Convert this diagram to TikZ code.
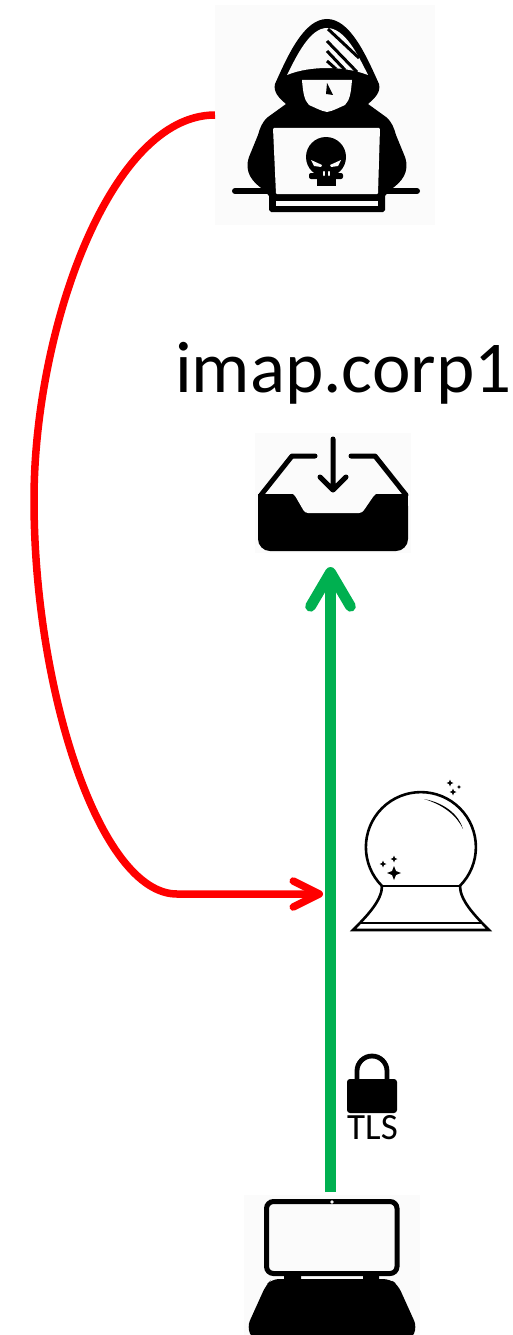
\documentclass[tikz,border=0pt]{standalone}
\usepackage{fontspec}
\setmainfont{Carlito}
\usepackage{tikz}
\usetikzlibrary{arrows.meta}
\definecolor{linkgreen}{HTML}{00B050}
\definecolor{iconbg}{HTML}{FBFBFB}
\tikzset{
  iconbox/.style={fill=iconbg, inner sep=0pt, outer sep=0pt},
  redlink/.style={red, line width=7.5pt, -{Straight Barb[round,length=26pt,width=26pt]}},
  greenlink/.style={linkgreen, line width=10.7pt, -{Straight Barb[round,length=34pt,width=40pt]}},
}
\begin{document}
\begin{tikzpicture}[x=1pt, y=-1pt]
  \useasboundingbox (0,0) rectangle (512,1335);
  \node[iconbox, minimum width=220pt, minimum height=220pt] (hacker) at (325,115) {};
  \node[iconbox, minimum width=156pt, minimum height=120pt] (inbox) at (333,493) {};
  \node[iconbox, minimum width=176pt, minimum height=140pt] (laptop) at (332,1265) {};
  \coordinate (tap) at (323,894);

  % hacker
  \fill[black] (327,19) .. controls (350,19) and (366,55) .. (379,84)
    .. controls (381,92) and (375,98) .. (368,104) -- (386,117)
    .. controls (392,122) and (394,128) .. (396,135) -- (405,157)
    .. controls (410,172) and (402,182) .. (390,190) -- (385,196) -- (385,210)
    -- (383,212) -- (271,212) -- (269,210) -- (269,196) -- (264,190)
    .. controls (252,182) and (244,172) .. (249,157) -- (258,135)
    .. controls (260,128) and (262,122) .. (268,117) -- (286,104)
    .. controls (279,98) and (273,92) .. (275,84)
    .. controls (288,55) and (304,19) .. (327,19) -- cycle;
  \fill[iconbg] (327,28) .. controls (345,28) and (358,55) .. (368,75)
    .. controls (355,70) and (340,68) .. (327,68)
    .. controls (314,68) and (299,70) .. (287,75)
    .. controls (297,55) and (310,28) .. (327,28) -- cycle;
  \draw[black, line width=3pt] (328,29) -- (359,58) (327,41) -- (357,72) (327,51) -- (345,70) (327,61) -- (336,69);
  \fill[iconbg] (302,80) -- (352,80) .. controls (351,92) and (350,100) .. (345,105)
    .. controls (338,108) and (333,111) .. (327,112)
    .. controls (321,111) and (316,108) .. (309,105)
    .. controls (304,100) and (303,92) .. (302,80) -- cycle;
  \fill[black] (327,83) -- (326,94) -- (333,95) -- cycle;
  \draw[black, line width=6pt, line cap=round] (235,191) -- (417,191);
  \fill[iconbg, rounded corners=1pt] (273,128) -- (380,128) -- (378,194) -- (276,194) -- cycle;
  \fill[iconbg] (276,201) rectangle (378,206);
  \fill[black] (326,157) circle (20);
  \fill[black, rounded corners=2pt] (309,173) rectangle (343,179);
  \fill[black] (317,174) rectangle (336,186);
  \fill[iconbg] (311,160) -- (322,165) -- (321,167) -- (314,166) -- cycle;
  \fill[iconbg] (341,160) -- (330,165) -- (331,167) -- (338,166) -- cycle;
  \draw[iconbg, line width=2.5pt, line cap=round] (324,172) -- (324,175) (329,172) -- (329,175);

  % label
  \node[anchor=base west, inner sep=0pt, font=\fontsize{73}{80}\selectfont] (imaplabel) at (175,392) {imap.corp1};

  % inbox
  \fill[black, rounded corners=12pt] (258,494) -- (258,551) -- (408,551) -- (408,494) -- cycle;
  \fill[black] (258,494) rectangle (408,510);
  \fill[iconbg, rounded corners=3pt] (291,493) -- (294,494) -- (305,513) -- (362,513) -- (375,494) -- (378,493) -- cycle;
  \draw[black, line width=5pt, line cap=round, line join=round] (315,456) -- (292,456) -- (261,495);
  \draw[black, line width=5pt, line cap=round, line join=round] (351,456) -- (375,456) -- (406,495);
  \draw[black, line width=5pt, line cap=round, line join=round] (333,439) -- (333,490) (320,477) -- (333,490) -- (346,477);

  % connectors
  \draw[redlink] (hacker.west) .. controls (110,115) and (34,330) .. (34,500)
    .. controls (34,690) and (100,894) .. (177,894) -- (tap);
  \draw[greenlink] ([xshift=-1.5pt,yshift=3pt]laptop.north) -- ([xshift=-2.5pt,yshift=-14pt]inbox.south);

  % ball
  \draw[black, line width=2.6pt] (382,886) arc[start angle=135, end angle=405, radius=55];
  \draw[black, line width=2.6pt, line join=round] (382,886) -- (460,886);
  \draw[black, line width=2.6pt, line join=miter] (382,886) .. controls (382,900) and (368,915) .. (353,930)
    -- (489,930) .. controls (474,915) and (460,900) .. (460,886);
  \draw[black, line width=2.4pt] (361,923) -- (483,923);
  \fill[black] (424,799) .. controls (445,803) and (459,815) .. (463,829)
    .. controls (457,816) and (444,805) .. (424,799) -- cycle;
  \foreach \sx/\sy/\sr in {394/873/7, 394/859/3.5, 383/864/3.5, 450/783/3.5, 453/792/3.5, 459/787/2.2}
    \fill[black] (\sx,\sy-\sr) -- ({\sx+0.28*\sr},{\sy-0.28*\sr}) -- ({\sx+\sr},\sy)
      -- ({\sx+0.28*\sr},{\sy+0.28*\sr}) -- (\sx,\sy+\sr) -- ({\sx-0.28*\sr},{\sy+0.28*\sr})
      -- ({\sx-\sr},\sy) -- ({\sx-0.28*\sr},{\sy-0.28*\sr}) -- cycle;

  % lock
  \fill[black, rounded corners=3pt] (347,1079) rectangle (397,1113);
  \draw[black, line width=4.8pt] (357,1082) -- (357,1071) arc[start angle=180, end angle=360, radius=15] -- (387,1082);
  \node[inner sep=0pt, font=\fontsize{37}{38}\selectfont] (tlslabel) at (372.5,1128) {TLS};

  % laptop
  \fill[black] (284,1275) rectangle (301,1281) (363,1275) rectangle (379,1281);
  \draw[black, line width=5pt, fill=iconbg, rounded corners=7pt] (266.5,1201.5) rectangle (397,1273.5);
  \fill[iconbg] (332,1202) circle (1.8);
  \fill[black, rounded corners=7pt] (272,1279) -- (390,1279) -- (398,1285) -- (417,1327) -- (411,1340) -- (253,1340) -- (247,1327) -- (266,1285) -- cycle;
\end{tikzpicture}
\end{document}
